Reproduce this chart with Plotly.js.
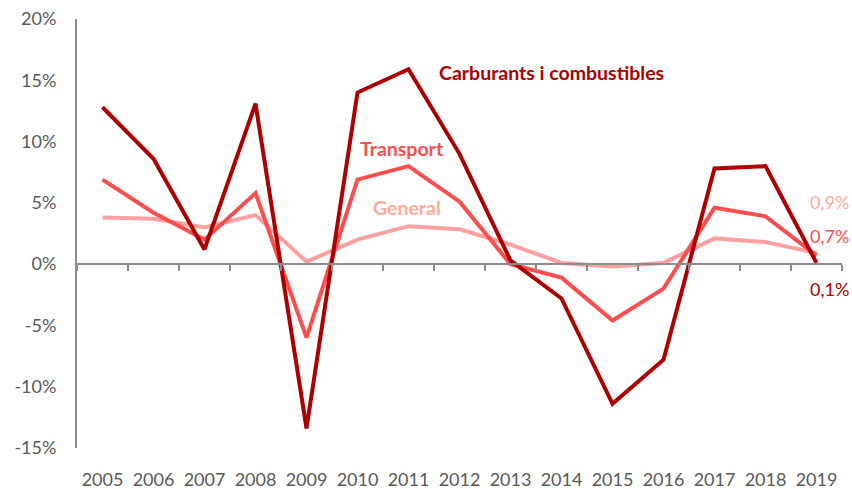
<!DOCTYPE html>
<html>
<head>
<meta charset="utf-8">
<script src="https://cdn.plot.ly/plotly-3.0.1.min.js"></script>
<style>html,body{margin:0;padding:0;background:#fff;}#chart{width:852px;height:489px;}</style>
</head>
<body>
<div id="chart"></div>
<script>
const years = [2005,2006,2007,2008,2009,2010,2011,2012,2013,2014,2015,2016,2017,2018,2019];
const carburants = [12.8,8.6,1.2,13.1,-13.4,14.0,15.9,9.0,0.3,-2.8,-11.4,-7.8,7.8,8.0,0.1];
const transport = [6.9,4.2,2.0,5.8,-6.0,6.9,8.0,5.1,0.0,-1.1,-4.6,-2.0,4.6,3.9,0.7];
const general = [3.8,3.7,3.0,4.0,0.2,2.0,3.1,2.85,1.6,0.1,-0.2,0.1,2.1,1.8,0.9];
const yTicks = [-15,-10,-5,0,5,10,15,20];
const yTickText = ['-15%','-10%','-5%','0%','5%','10%','15%','20%'];
const seriesNames = ['Carburants i combustibles','Transport','General'];
const lastLabels = ['0,1%','0,7%','0,9%'];

const cDark = '#AE0000', cMid = '#FF4D4D', cLight = '#FFA0A0', cLightText = '#FFAA99';
const font = 'Lato, "Liberation Sans", sans-serif';

const traces = [
  {x: years, y: general, mode: 'lines', line: {color: cLight, width: 4}, showlegend: false, hoverinfo: 'skip'},
  {x: years, y: transport, mode: 'lines', line: {color: cMid, width: 4}, showlegend: false, hoverinfo: 'skip'},
  {x: years, y: carburants, mode: 'lines', line: {color: cDark, width: 4}, showlegend: false, hoverinfo: 'skip'},
  {x: [years[0]], y: [null], xaxis: 'x2', mode: 'lines', showlegend: false, hoverinfo: 'skip'}
];

const annotations = [
  {x: 2011.56, y: 15.6, text: '<b>' + seriesNames[0] + '</b>', showarrow: false, xanchor: 'left', yanchor: 'middle', font: {family: font, size: 19.5, color: cDark}},
  {x: 2010.0, y: 9.45, text: '<b>' + seriesNames[1] + '</b>', showarrow: false, xanchor: 'left', yanchor: 'middle', font: {family: font, size: 19.5, color: cMid}},
  {x: 2010.26, y: 4.65, text: '<b>' + seriesNames[2] + '</b>', showarrow: false, xanchor: 'left', yanchor: 'middle', font: {family: font, size: 19.5, color: cLightText}},
  {x: years[14], y: general[14], text: lastLabels[2], showarrow: false, xanchor: 'right', yanchor: 'middle', xshift: 34, yshift: 51, font: {family: font, size: 18, color: cLightText}},
  {x: years[14], y: transport[14], text: lastLabels[1], showarrow: false, xanchor: 'right', yanchor: 'middle', xshift: 34.5, yshift: 20, font: {family: font, size: 18, color: cMid}},
  {x: years[14], y: carburants[14], text: lastLabels[0], showarrow: false, xanchor: 'right', yanchor: 'middle', xshift: 34.5, yshift: -26, font: {family: font, size: 18, color: cDark}}
];

const layout = {
  width: 852, height: 489,
  margin: {l: 77, r: 10, t: 19, b: 41, pad: 0},
  paper_bgcolor: '#fff', plot_bgcolor: '#fff',
  font: {family: font, size: 18, color: '#595959'},
  xaxis: {
    type: 'linear', range: [2004.5, 2019.5], tickvals: years, ticktext: years.map(String),
    showgrid: false, zeroline: false, showline: false,
    ticks: 'outside', ticklen: 15, tickcolor: 'rgba(0,0,0,0)',
    tickfont: {family: font, size: 18, color: '#595959'}, fixedrange: true
  },
  xaxis2: {
    type: 'linear', overlaying: 'x', anchor: 'free', position: 15/35, matches: 'x',
    range: [2004.5, 2019.5], tick0: 2004.5, dtick: 1,
    showgrid: false, zeroline: false, showline: true, linecolor: '#8C8C8C', linewidth: 2,
    ticks: 'outside', ticklen: 6, tickwidth: 2, tickcolor: '#8C8C8C', showticklabels: false
  },
  yaxis: {
    range: [-15, 20], tickvals: yTicks, ticktext: yTickText,
    showgrid: false, zeroline: false, showline: true, linecolor: '#8C8C8C', linewidth: 2,
    ticks: 'outside', ticklen: 15, tickcolor: 'rgba(0,0,0,0)',
    tickfont: {family: font, size: 18, color: '#595959'}, fixedrange: true
  },
  annotations: annotations,
  showlegend: false
};

Plotly.newPlot('chart', traces, layout, {staticPlot: true, displayModeBar: false});
</script>
</body>
</html>
